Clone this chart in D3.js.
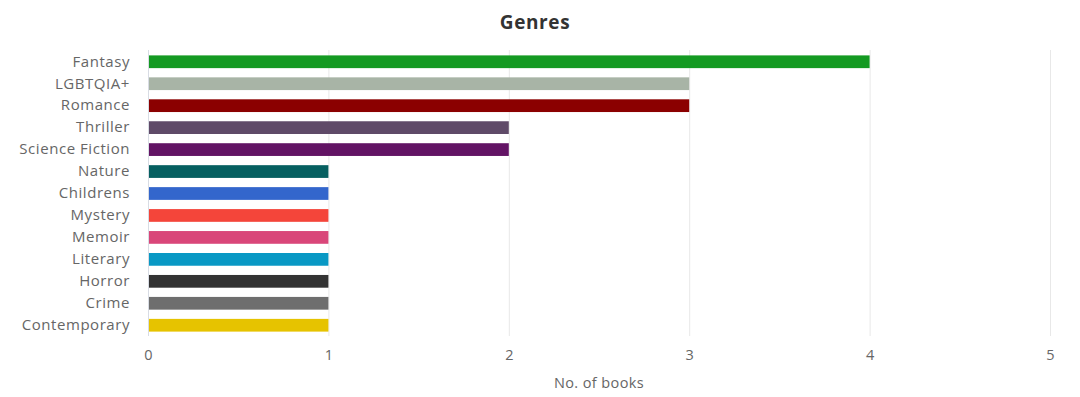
<!DOCTYPE html>
<html>
<head>
<meta charset="utf-8">
<script src="https://cdn.jsdelivr.net/npm/d3@7"></script>
<style>
  body { margin: 0; background: #fff; font-family: "Open Sans", "Noto Sans", sans-serif; }
  #chart { width: 1080px; height: 397px; }
</style>
</head>
<body>
<div id="chart"></div>
<script>
// chart data
const genres = ["Fantasy", "LGBTQIA+", "Romance", "Thriller", "Science Fiction", "Nature", "Childrens",
  "Mystery", "Memoir", "Literary", "Horror", "Crime", "Contemporary"];
const books = [4, 3, 3, 2, 2, 1, 1, 1, 1, 1, 1, 1, 1];
const barColors = ["#149a22", "#a8b4a6", "#8b0000", "#5f4a68", "#621364", "#065f60", "#3366cc",
  "#f4453a", "#d94679", "#0898c4", "#333333", "#6e6e6e", "#e6c300"];
const xTicks = [0, 1, 2, 3, 4, 5];

const width = 1080, height = 397;
const margin = {top: 50, right: 30, bottom: 61, left: 148};

const svg = d3.select("#chart").append("svg")
    .attr("width", width)
    .attr("height", height);

const x = d3.scaleLinear()
    .domain([0, 5])
    .range([margin.left, width - margin.right]);

const y = d3.scaleBand()
    .domain(genres)
    .range([margin.top + 1, height - margin.bottom])
    .paddingInner(0.42)
    .paddingOuter(0.2);

// grid lines
svg.append("g")
    .selectAll("line")
    .data(xTicks)
    .join("line")
    .attr("x1", d => x(d) + 0.5)
    .attr("x2", d => x(d) + 0.5)
    .attr("y1", margin.top)
    .attr("y2", height - margin.bottom)
    .attr("stroke", d => d === 0 ? "#d8dce4" : "#e8e8e8")
    .attr("stroke-width", 1);

// bars
svg.append("g")
    .selectAll("rect")
    .data(genres)
    .join("rect")
    .attr("x", x(0) + 1)
    .attr("y", d => y(d))
    .attr("width", (d, i) => x(books[i]) - x(0) - 1)
    .attr("height", y.bandwidth())
    .attr("fill", (d, i) => barColors[i]);

// x axis
const xAxis = svg.append("g")
    .attr("transform", `translate(0,${height - margin.bottom})`)
    .call(d3.axisBottom(x).tickValues(xTicks).tickSize(0).tickPadding(14).tickFormat(d3.format("d")));
xAxis.select(".domain").remove();
xAxis.selectAll("text")
    .attr("fill", "#666")
    .style("font-size", "14.5px")
    .style("font-family", "'Open Sans', sans-serif");

// y axis
const yAxis = svg.append("g")
    .attr("transform", `translate(${margin.left},0)`)
    .call(d3.axisLeft(y).tickSize(0).tickPadding(18));
yAxis.select(".domain").remove();
yAxis.selectAll("text")
    .attr("fill", "#666")
    .style("font-size", "15px")
    .style("letter-spacing", "0.55px")
    .style("font-family", "'Open Sans', sans-serif");

// axis title
svg.append("text")
    .attr("x", (x(0) + x(5)) / 2)
    .attr("y", 388)
    .attr("text-anchor", "middle")
    .attr("fill", "#666")
    .style("font-size", "14.5px")
    .style("letter-spacing", "0.4px")
    .text("No. of books");

// chart title
svg.append("text")
    .attr("x", 535)
    .attr("y", 29)
    .attr("text-anchor", "middle")
    .attr("fill", "#333")
    .style("font-size", "19px")
    .style("letter-spacing", "0.6px")
    .style("font-weight", "bold")
    .text("Genres");
</script>
</body>
</html>
